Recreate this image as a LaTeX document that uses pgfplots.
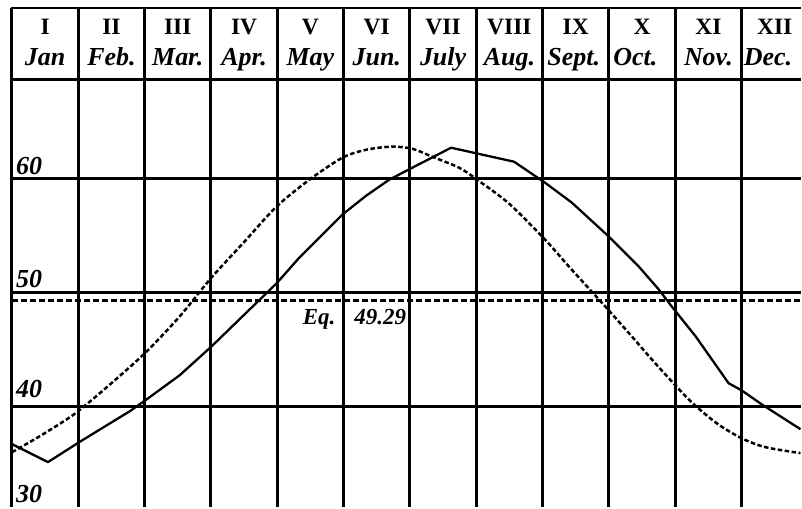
\documentclass[border=0pt]{standalone}
\usepackage{fontspec}
\setmainfont{Liberation Serif}
\usepackage{pgfplots}
\pgfplotsset{compat=1.18}

% Solid curve: observed monthly course
\newcommand\solidcurve{
(0.000,36.67) (0.542,35.09) (1.038,36.93) (1.776,39.56) (2.032,40.61)
(2.528,42.72) (3.010,45.26) (3.506,48.07) (3.988,50.79) (4.334,53.07)
(4.981,56.84) (5.342,58.51) (5.688,59.91) (6.035,60.96) (6.621,62.72)
(7.570,61.49) (8.036,59.65) (8.442,57.89) (8.999,54.91) (9.450,52.28)
(9.752,50.26) (9.947,48.77) (10.308,46.14) (10.805,42.02) (11.000,41.40)
(11.301,40.18) (11.889,37.98)}

% Dashed curve: smooth annual course
\newcommand\dashedcurve{
(0.000,35.96) (0.421,37.37) (0.828,38.86) (1.053,39.82) (1.550,42.28)
(2.032,44.82) (2.528,47.89) (3.010,51.32) (3.506,54.47) (3.988,57.54)
(4.485,59.91) (4.981,61.84) (5.342,62.54) (5.719,62.81) (6.035,62.63)
(6.336,61.93) (6.742,60.96) (7.013,59.91) (7.494,57.81) (8.036,54.65)
(8.397,52.28) (8.698,50.35) (8.999,48.42) (9.345,46.14) (9.646,44.12)
(9.947,42.19) (10.248,40.35) (10.624,38.51) (11.000,37.19) (11.362,36.40)
(11.889,35.88)}

\tikzset{
  roman/.style={anchor=base, inner sep=0pt, font=\fontsize{23.5}{23.5}\selectfont\bfseries},
  month/.style={anchor=base, inner sep=0pt, font=\fontsize{26}{26}\selectfont\bfseries\itshape},
  ylab/.style={anchor=base west, inner sep=0pt, font=\fontsize{26}{26}\selectfont\bfseries\itshape},
  eqlab/.style={inner sep=0pt, font=\fontsize{23}{23}\selectfont\bfseries\itshape},
}

\begin{document}
\begin{tikzpicture}
\begin{axis}[
  scale only axis,
  width=790pt, height=500pt,
  xmin=0, xmax=11.889,
  ymin=31.14, ymax=75.0,
  axis lines=none,
  clip=false,
]
% page extent (left and top margins)
\path ([xshift=-12pt]rel axis cs:0,0) rectangle ([yshift=8pt]rel axis cs:1,1);

% month columns
\pgfplotsinvokeforeach{0,...,11}{
  \draw[line width=3pt, black] (axis cs:#1,31.14) -- (axis cs:#1,75.0);
}
% horizontal rules
\pgfplotsinvokeforeach{40,50,60,68.68}{
  \draw[line width=3pt, black] (axis cs:0,#1) -- (axis cs:11.889,#1);
}
\draw[line width=2.5pt, black] (axis cs:-0.02,75.0) -- (axis cs:11.889,75.0);

% header: roman numerals
\node[roman] at (axis cs:0.5,72.63) {I};
\node[roman] at (axis cs:1.5,72.63) {II};
\node[roman] at (axis cs:2.5,72.63) {III};
\node[roman] at (axis cs:3.5,72.63) {IV};
\node[roman] at (axis cs:4.5,72.63) {V};
\node[roman] at (axis cs:5.5,72.63) {VI};
\node[roman] at (axis cs:6.5,72.63) {VII};
\node[roman] at (axis cs:7.5,72.63) {VIII};
\node[roman] at (axis cs:8.5,72.63) {IX};
\node[roman] at (axis cs:9.5,72.63) {X};
\node[roman] at (axis cs:10.5,72.63) {XI};
\node[roman] at (axis cs:11.5,72.63) {XII};
% header: month names
\node[month] at (axis cs:0.5,69.91) {Jan};
\node[month] at (axis cs:1.5,69.91) {Feb.};
\node[month] at (axis cs:2.5,69.91) {Mar.};
\node[month] at (axis cs:3.5,69.91) {Apr.};
\node[month] at (axis cs:4.5,69.91) {May};
\node[month] at (axis cs:5.5,69.91) {Jun.};
\node[month] at (axis cs:6.5,69.91) {July};
\node[month] at (axis cs:7.5,69.91) {Aug.};
\node[month] at (axis cs:8.47,69.91) {Sept.};
\node[month] at (axis cs:9.4,69.91) {Oct.};
\node[month] at (axis cs:10.5,69.91) {Nov.};
\node[month] at (axis cs:11.4,69.91) {Dec.};

% y labels
\node[ylab] at (axis cs:0.06,60.35) {60};
\node[ylab] at (axis cs:0.06,50.44) {50};
\node[ylab] at (axis cs:0.06,40.79) {40};
\node[ylab] at (axis cs:0.06,31.55) {30};

% equinox level
\addplot[black, line width=2.5pt, dash pattern=on 6pt off 3pt] coordinates {(0,49.29) (11.889,49.29)};
\node[eqlab, anchor=base east] at (axis cs:4.88,47.19) {Eq.};
\node[eqlab, anchor=base west] at (axis cs:5.16,47.19) {49.29};

% curves
\addplot[black, line width=2.3pt, line join=round] coordinates {\solidcurve};
\addplot[black, line width=2.5pt, smooth, tension=0.5, dash pattern=on 4.5pt off 2.5pt] coordinates {\dashedcurve};
\end{axis}
\end{tikzpicture}
\end{document}
